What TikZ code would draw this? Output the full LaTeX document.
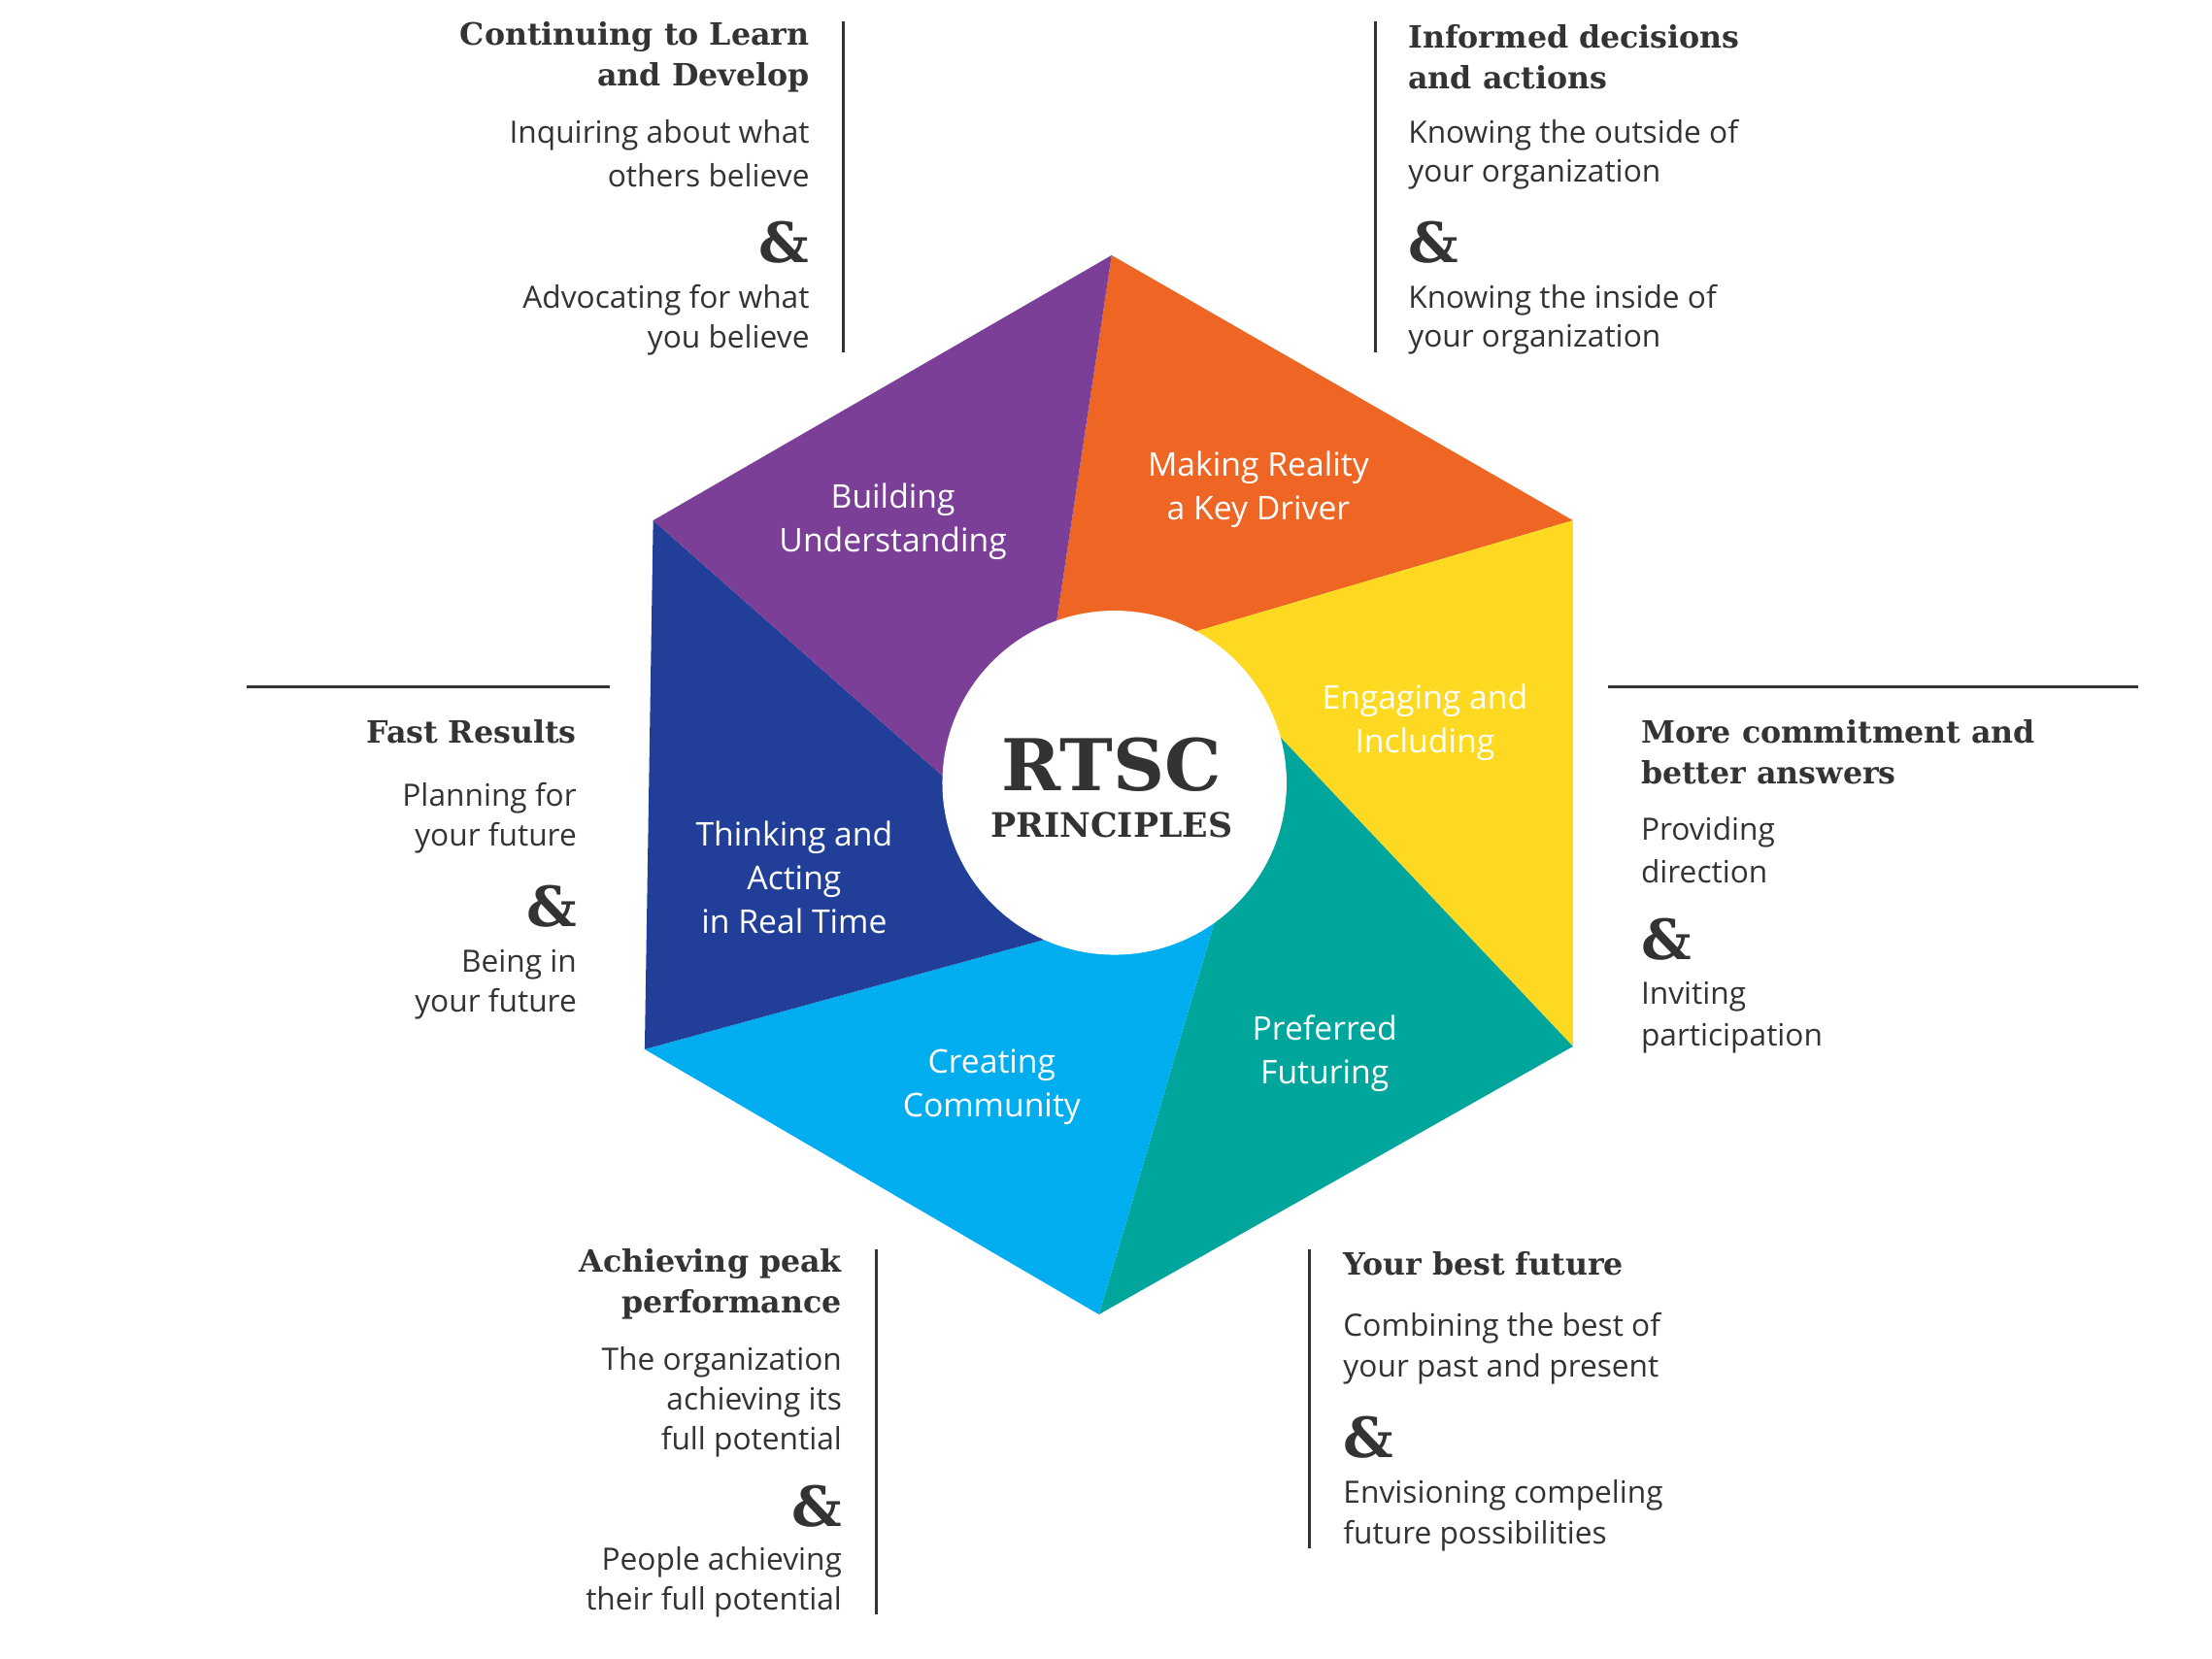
\documentclass[tikz,border=0pt]{standalone}
\usepackage{fontspec}
\setmainfont{Open Sans}
\newfontfamily\slab{DejaVu Serif}
\definecolor{cpur}{HTML}{7B3F98}
\definecolor{cora}{HTML}{EE6524}
\definecolor{cyel}{HTML}{FDDA21}
\definecolor{ctea}{HTML}{00A69C}
\definecolor{clbl}{HTML}{00ADEF}
\definecolor{cdbl}{HTML}{213F99}
\definecolor{ctxt}{HTML}{333333}
\begin{document}
\begin{tikzpicture}[x=0.025cm,y=-0.025cm,
 ttl/.style={font=\slab\bfseries\fontsize{15.5}{20}\selectfont,text=ctxt,inner sep=0pt},
 bod/.style={font=\fontsize{15.5}{20}\selectfont,text=ctxt,inner sep=0pt},
 amp/.style={font=\slab\bfseries\fontsize{28}{30}\selectfont,text=ctxt,inner sep=0pt},
 sec/.style={font=\fontsize{16.5}{22}\selectfont,text=white,align=center},
 rule/.style={ctxt,line width=1.5pt}]
\useasboundingbox[fill=white] (0,0) rectangle (1568,1176);
% hexagon vertices
\coordinate (v1) at (788,181); \coordinate (v2) at (1115,369);
\coordinate (v3) at (1115,742); \coordinate (v4) at (779,932);
\coordinate (v5) at (457,744); \coordinate (v6) at (463,369);
\coordinate (c) at (790,555);
\coordinate (p1) at (748,447); \coordinate (p2) at (840,450);
\coordinate (p3) at (905,520); \coordinate (p4) at (862,650);
\coordinate (p5) at (745,665); \coordinate (p6) at (668,550);
\fill[cora] (v1)--(v2)--(p2)--(c)--(p1)--cycle;
\fill[cyel] (v2)--(v3)--(p3)--(c)--(p2)--cycle;
\fill[ctea] (v3)--(v4)--(p4)--(c)--(p3)--cycle;
\fill[clbl] (v4)--(v5)--(p5)--(c)--(p4)--cycle;
\fill[cdbl] (v5)--(v6)--(p6)--(c)--(p5)--cycle;
\fill[cpur] (v6)--(v1)--(p1)--(c)--(p6)--cycle;
\node[circle,fill=white,minimum size=244*0.025cm,inner sep=0pt] (ctr) at (c) {};
\node[font=\slab\bfseries\fontsize{36}{40}\selectfont,text=ctxt,inner sep=0pt] (rtsc) at (788,542) {RTSC};
\node[font=\slab\bfseries\fontsize{17}{20}\selectfont,text=ctxt,inner sep=0pt] (pri) at (788,585) {PRINCIPLES};
% sector labels
\node[sec] (s1) at (633,370) {Building\\Understanding};
\node[sec] (s2) at (892,347) {Making Reality\\a Key Driver};
\node[sec] (s3) at (1010,512) {Engaging and\\Including};
\node[sec] (s4) at (939,747) {Preferred\\Futuring};
\node[sec] (s5) at (703,771) {Creating\\Community};
\node[sec] (s6) at (563,622) {Thinking and\\Acting\\in Real Time};
% top-left
\draw[rule] (598,15)--(598,250);
\node[ttl,anchor=east] (a1) at (574,26) {Continuing to Learn};
\node[ttl,anchor=east] (a2) at (574,55) {and Develop};
\node[bod,anchor=east] (a3) at (574,96) {Inquiring about what};
\node[bod,anchor=east] (a4) at (574,124) {others believe};
\node[amp,anchor=east] (a5) at (574,172) {\&};
\node[bod,anchor=east] (a6) at (574,213) {Advocating for what};
\node[bod,anchor=east] (a7) at (574,241) {you believe};
% top-right
\draw[rule] (975,15)--(975,250);
\node[ttl,anchor=west] (b1) at (998,26) {Informed decisions};
\node[ttl,anchor=west] (b2) at (998,55) {and actions};
\node[bod,anchor=west] (b3) at (998,96) {Knowing the outside of};
\node[bod,anchor=west] (b4) at (998,124) {your organization};
\node[amp,anchor=west] (b5) at (998,172) {\&};
\node[bod,anchor=west] (b6) at (998,213) {Knowing the inside of};
\node[bod,anchor=west] (b7) at (998,241) {your organization};
% middle-left
\draw[rule] (175,487)--(432,487);
\node[ttl,anchor=east] (d1) at (409,519) {Fast Results};
\node[bod,anchor=east] (d2) at (409,566) {Planning for};
\node[bod,anchor=east] (d3) at (409,594) {your future};
\node[amp,anchor=east] (d4) at (409,643) {\&};
\node[bod,anchor=east] (d5) at (409,684) {Being in};
\node[bod,anchor=east] (d6) at (409,712) {your future};
% middle-right
\draw[rule] (1140,487)--(1516,487);
\node[ttl,anchor=west] (e1) at (1163,519) {More commitment and};
\node[ttl,anchor=west] (e2) at (1163,548) {better answers};
\node[bod,anchor=west] (e3) at (1163,590) {Providing};
\node[bod,anchor=west] (e4) at (1163,618) {direction};
\node[amp,anchor=west] (e5) at (1163,666) {\&};
\node[bod,anchor=west] (e6) at (1163,707) {Inviting};
\node[bod,anchor=west] (e7) at (1163,736) {participation};
% bottom-left
\draw[rule] (621,886)--(621,1145);
\node[ttl,anchor=east] (f1) at (597,896) {Achieving peak};
\node[ttl,anchor=east] (f2) at (597,925) {performance};
\node[bod,anchor=east] (f3) at (597,966) {The organization};
\node[bod,anchor=east] (f4) at (597,994) {achieving its};
\node[bod,anchor=east] (f5) at (597,1022) {full potential};
\node[amp,anchor=east] (f6) at (597,1068) {\&};
\node[bod,anchor=east] (f7) at (597,1108) {People achieving};
\node[bod,anchor=east] (f8) at (597,1136) {their full potential};
% bottom-right
\draw[rule] (928,886)--(928,1098);
\node[ttl,anchor=west] (g1) at (952,896) {Your best future};
\node[bod,anchor=west] (g2) at (952,942) {Combining the best of};
\node[bod,anchor=west] (g3) at (952,971) {your past and present};
\node[amp,anchor=west] (g4) at (952,1019) {\&};
\node[bod,anchor=west] (g5) at (952,1060) {Envisioning compeling};
\node[bod,anchor=west] (g6) at (952,1089) {future possibilities};
\end{tikzpicture}
\end{document}
